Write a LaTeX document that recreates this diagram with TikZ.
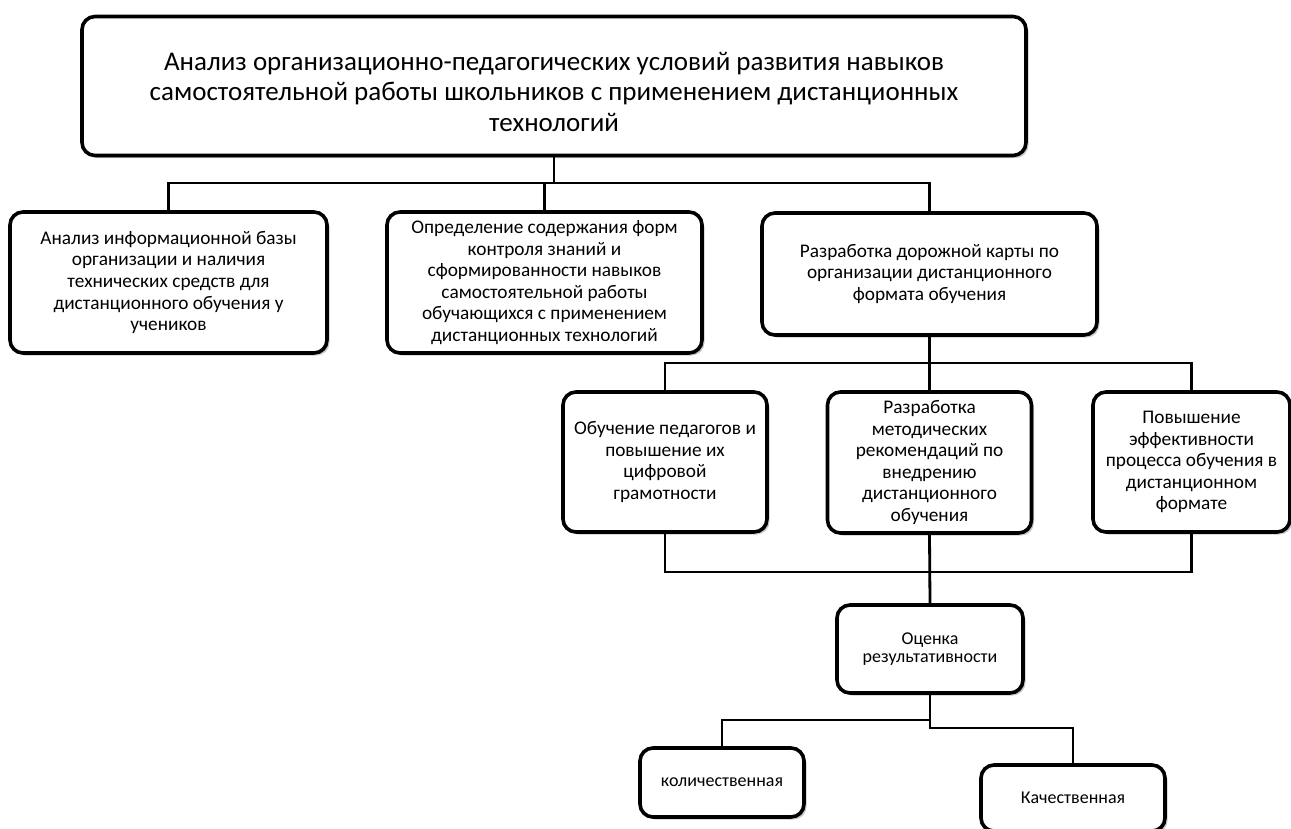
\documentclass[tikz,border=0pt]{standalone}
\usepackage{fontspec}
\setmainfont{Carlito}
\usetikzlibrary{shadows}

\begin{document}
\begin{tikzpicture}[x=1pt,y=-1pt,
	  blok/.style={draw=black, line width=3.6pt, rounded corners=13pt, fill=white,
	    align=center, inner sep=0pt,
	    drop shadow={shadow xshift=2.5pt, shadow yshift=-2.5pt, opacity=0.3, fill=black!70}},
	  svyaz/.style={draw=black, line width=2.8pt},
	  txt/.style={font=\fontsize{19.3}{21.6}\selectfont},
	  txtmal/.style={font=\fontsize{18}{18.5}\selectfont}]
	  \clip (0,0) rectangle (1291,828);
	  \fill[white] (0,0) rectangle (1291,828);

	  % verkhnii blok
	  \node[blok, minimum width=944pt, minimum height=139pt, font=\fontsize{27}{30.5}\selectfont] (top) at (554,86)
	  {\rule{0pt}{30pt}Анализ организационно-педагогических условий развития навыков\\
	   самостоятельной работы школьников с применением дистанционных\\
	   технологий};

	  % vtoroi uroven
	  \node[blok, txt, minimum width=317pt, minimum height=141pt] (anal) at (168.5,282.5)
	  {Анализ информационной базы\\организации и наличия\\технических средств для\\дистанционного обучения у\\учеников};
	  \node[blok, txt, minimum width=315pt, minimum height=141pt] (opred) at (544.5,282.5)
	  {Определение содержания форм\\контроля знаний и\\сформированности навыков\\самостоятельной работы\\обучающихся с применением\\дистанционных технологий};
	  \node[blok, txt, minimum width=335pt, minimum height=122pt] (karta) at (929.5,274)
	  {Разработка дорожной карты по\\организации дистанционного\\формата обучения};

	  % tretii uroven
	  \node[blok, txt, minimum width=204pt, minimum height=140pt] (obuch) at (665,462)
	  {Обучение педагогов и\\повышение их\\цифровой\\грамотности};
	  \node[blok, txt, minimum width=204pt, minimum height=141pt] (metod) at (929.5,462.5)
	  {Разработка\\методических\\рекомендаций по\\внедрению\\дистанционного\\обучения};
	  \node[blok, txt, minimum width=197pt, minimum height=140pt] (effekt) at (1191.5,462)
	  {Повышение\\эффективности\\процесса обучения в\\дистанционном\\формате};

	  % otsenka
	  \node[blok, txtmal, minimum width=186pt, minimum height=88pt] (otsenka) at (930,649)
	  {Оценка\\результативности};
	  \node[blok, txtmal, minimum width=164pt, minimum height=69pt] (kolich) at (722,782.5)
	  {количественная};
	  \node[blok, txtmal, minimum width=184pt, minimum height=66pt] (kachest) at (1073,798)
	  {Качественная};

	  % linii
	  \coordinate (shina1) at (554,183);
	  \coordinate (shina2) at (929.5,363);
	  \coordinate (shina3) at (929.5,572);
	  \coordinate (vetvL) at (930,720);
	  \coordinate (vetvR) at (930,728);

	  \draw[svyaz] (top.south) -- (shina1);
	  \draw[svyaz] (anal.north) |- (shina1) -| (karta.north);
	  \draw[svyaz] (opred.north) -- (opred.north |- shina1);

	  \draw[svyaz] (karta.south) -- (metod.north);
	  \draw[svyaz] (obuch.north) |- (shina2) -| (effekt.north);

	  \draw[svyaz] (obuch.south) |- (shina3) -| (effekt.south);
	  \draw[svyaz] (metod.south) -- (otsenka.north);

	  \draw[svyaz] (otsenka.south) -- (vetvR) -| (kachest.north);
	  \draw[svyaz] (vetvL) -| (kolich.north);
	\end{tikzpicture}
\end{document}
